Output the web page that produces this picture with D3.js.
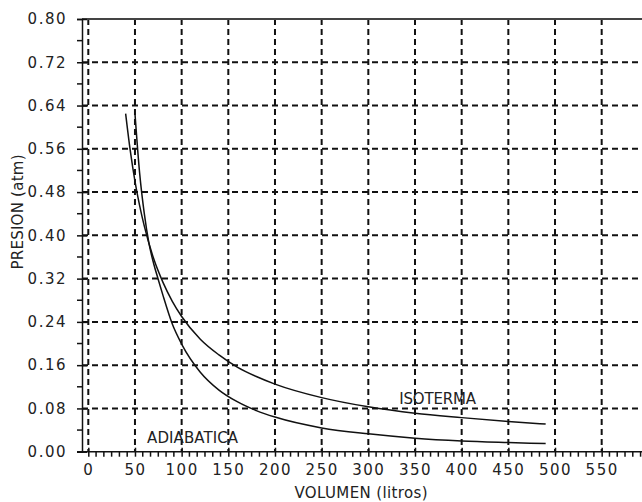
<!DOCTYPE html>
<html>
<head>
<meta charset="utf-8">
<script src="https://cdn.jsdelivr.net/npm/d3@7"></script>
<style>
  body { margin: 0; background: #fff; }
  svg { display: block; }
  text { font-family: "DejaVu Sans", sans-serif; fill: #222; }
</style>
</head>
<body>
<div id="chart"></div>
<script>
// Isoterma (PV = cte)
const isoVol = [40, 45, 50, 55, 60, 70, 80, 90, 100, 120, 140, 160, 180, 200, 250, 300, 350, 400, 450, 490];
const isoPres = [0.625, 0.556, 0.500, 0.455, 0.417, 0.357, 0.313, 0.278, 0.250, 0.208, 0.179, 0.156, 0.139, 0.125, 0.100, 0.083, 0.071, 0.063, 0.056, 0.051];

// Adiabatica
const adiVol = [50, 55, 60, 65, 70, 75, 80, 90, 100, 120, 140, 160, 180, 200, 250, 300, 350, 400, 450, 490];
const adiPres = [0.625, 0.515, 0.440, 0.385, 0.348, 0.318, 0.289, 0.236, 0.199, 0.147, 0.114, 0.092, 0.076, 0.064, 0.044, 0.033, 0.025, 0.020, 0.017, 0.015];

const xTicks = [0, 50, 100, 150, 200, 250, 300, 350, 400, 450, 500, 550];
const yTicks = [0.00, 0.08, 0.16, 0.24, 0.32, 0.40, 0.48, 0.56, 0.64, 0.72, 0.80];

const width = 642, height = 502;

const svg = d3.select('#chart')
    .append('svg')
    .attr('width', width)
    .attr('height', height);

// scales: plot runs off the right edge
const x = d3.scaleLinear().domain([-6.75, 593.2]).range([82, 642]);
const y = d3.scaleLinear().domain([0, 0.8]).range([451.7, 19]);

const xMinor = d3.range(0, 596, 50 / 6).filter(v => xTicks.every(t => Math.abs(t - v) > 0.1));
const yMinor = d3.range(0.04, 0.8, 0.08);

// dashed grid
svg.append('g')
    .selectAll('line')
    .data(xTicks)
    .join('line')
    .attr('x1', d => x(d)).attr('x2', d => x(d))
    .attr('y1', y(0.8)).attr('y2', y(0))
    .attr('stroke', '#111')
    .attr('stroke-width', 2)
    .attr('stroke-dasharray', '6,4');

svg.append('g')
    .selectAll('line')
    .data(yTicks.filter(d => d > 0 && d < 0.8))
    .join('line')
    .attr('x1', x.range()[0]).attr('x2', x.range()[1])
    .attr('y1', d => y(d)).attr('y2', d => y(d))
    .attr('stroke', '#111')
    .attr('stroke-width', 2)
    .attr('stroke-dasharray', '6,4');

// top border
svg.append('line')
    .attr('x1', x.range()[0]).attr('x2', x.range()[1])
    .attr('y1', y(0.8)).attr('y2', y(0.8))
    .attr('stroke', '#444')
    .attr('stroke-width', 2);

// axes
const yAxis = svg.append('g')
    .attr('transform', `translate(${x.range()[0]},0)`)
    .call(d3.axisLeft(y).tickValues(yTicks).tickFormat(d3.format('.2f')).tickSize(5).tickPadding(10));
yAxis.select('.domain').attr('stroke', '#111').attr('stroke-width', 1.5);
yAxis.selectAll('.tick line').attr('x2', 5).attr('x1', -5).attr('stroke', '#111').attr('stroke-width', 1.5);
yAxis.selectAll('.tick text').style('font-size', '15px').style('letter-spacing', '1.5px').attr('fill', '#1a1a1a');

yAxis.selectAll('.minor')
    .data(yMinor)
    .join('line')
    .attr('class', 'minor')
    .attr('x1', -5).attr('x2', 0)
    .attr('y1', d => y(d)).attr('y2', d => y(d))
    .attr('stroke', '#111').attr('stroke-width', 1.5);

const xAxis = svg.append('g')
    .attr('transform', `translate(0,${y.range()[0]})`)
    .call(d3.axisBottom(x).tickValues(xTicks).tickFormat(d3.format('d')).tickSize(5).tickPadding(8));
xAxis.select('.domain').attr('stroke', '#111').attr('stroke-width', 1.5)
    .attr('d', `M${x.range()[0] - 5},0H${x.range()[1]}`);
xAxis.selectAll('.tick line').attr('y1', -4).attr('y2', 5).attr('stroke', '#111').attr('stroke-width', 1.5);
xAxis.selectAll('.tick text').style('font-size', '15px').style('letter-spacing', '1.5px').attr('fill', '#1a1a1a');

xAxis.selectAll('.minor')
    .data(xMinor)
    .join('line')
    .attr('class', 'minor')
    .attr('x1', d => x(d)).attr('x2', d => x(d))
    .attr('y1', 0).attr('y2', 5)
    .attr('stroke', '#111').attr('stroke-width', 1.5);

// curves
const line = d3.line()
    .x(d => x(d[0]))
    .y(d => y(d[1]))
    .curve(d3.curveMonotoneX);

svg.append('path')
    .datum(d3.zip(isoVol, isoPres))
    .attr('d', line)
    .attr('fill', 'none')
    .attr('stroke', '#111')
    .attr('stroke-width', 1.5);

svg.append('path')
    .datum(d3.zip(adiVol, adiPres))
    .attr('d', line)
    .attr('fill', 'none')
    .attr('stroke', '#111')
    .attr('stroke-width', 1.5);

// curve labels
svg.append('text')
    .attr('x', x(333)).attr('y', y(0.088))
    .attr('textLength', 77)
    .style('font-size', '15px')
    .text('ISOTERMA');

svg.append('text')
    .attr('x', x(63)).attr('y', y(0.016))
    .attr('textLength', 91)
    .style('font-size', '15px')
    .text('ADIABATICA');

// axis titles
svg.append('text')
    .attr('x', 361).attr('y', 498)
    .attr('text-anchor', 'middle')
    .attr('textLength', 133)
    .style('font-size', '15px')
    .text('VOLUMEN (litros)');

svg.append('text')
    .attr('transform', 'translate(23,212) rotate(-90)')
    .attr('text-anchor', 'middle')
    .attr('textLength', 115)
    .style('font-size', '15px')
    .text('PRESION (atm)');
</script>
</body>
</html>
